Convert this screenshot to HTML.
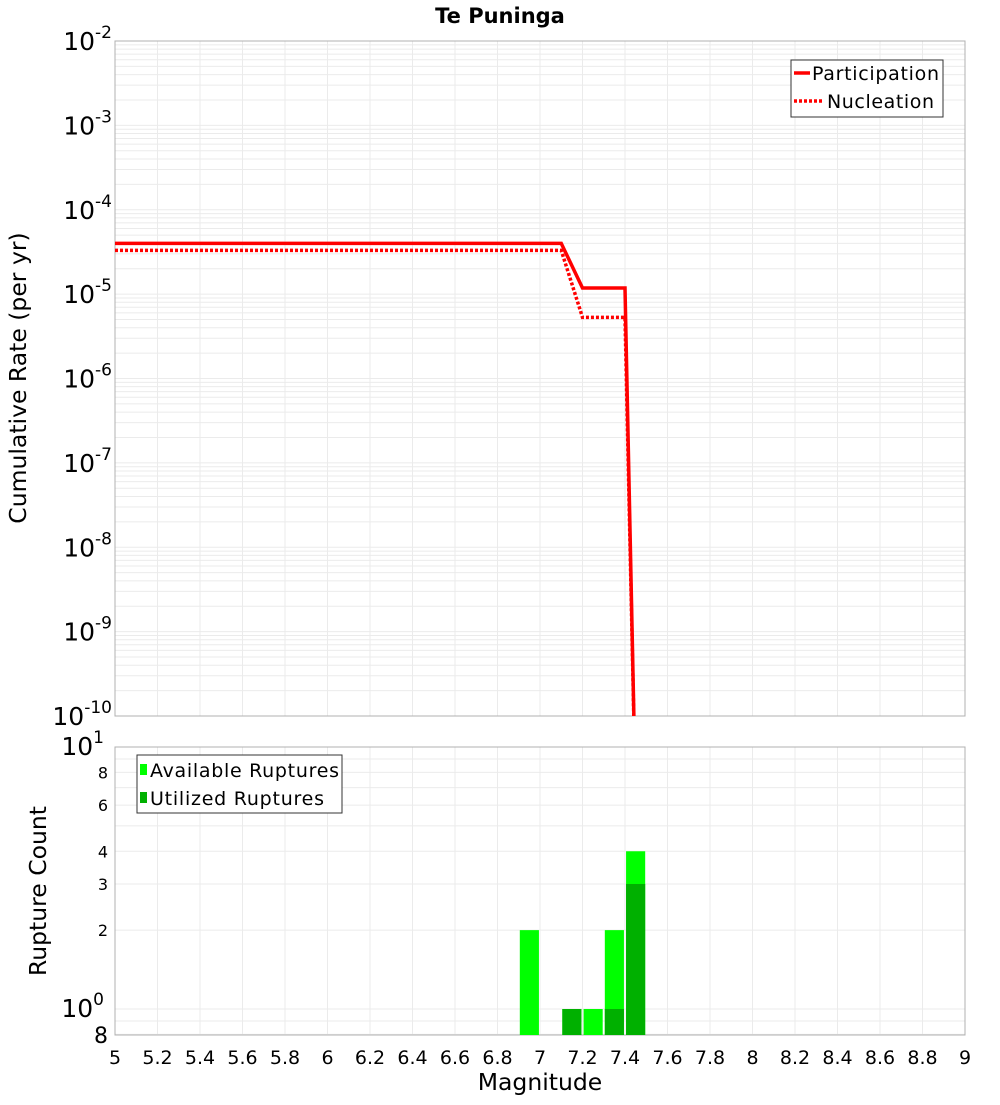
<!DOCTYPE html>
<html><head><meta charset="utf-8"><style>
body{margin:0;background:#fff;font-family:"Liberation Sans","DejaVu Sans",sans-serif}
svg text{font-family:"DejaVu Sans","Liberation Sans",sans-serif}
</style></head><body>
<svg id="c" width="1000" height="1100" xmlns="http://www.w3.org/2000/svg">
<text x="500" y="23" text-anchor="middle" font-size="21" font-weight="bold">Te Puninga</text>
<g id="topg"></g>
<g id="botg"></g>
<text transform="translate(26,378) rotate(-90)" text-anchor="middle" font-size="23.5">Cumulative Rate (per yr)</text>
<text transform="translate(46,891) rotate(-90)" text-anchor="middle" font-size="23.5">Rupture Count</text>
<text x="540" y="1090" text-anchor="middle" font-size="23.5">Magnitude</text>
<g>
<rect x="791" y="60" width="152" height="57" fill="#fff" stroke="#333"/>
<line x1="794" y1="73" x2="810" y2="73" stroke="red" stroke-width="3.5"/>
<text x="812" y="80" font-size="19" textLength="127">Participation</text>
<line x1="794" y1="101" x2="822" y2="101" stroke="red" stroke-width="3.5" stroke-dasharray="3,2"/>
<text x="827" y="108" font-size="19" textLength="107">Nucleation</text>
</g>
<g>
<rect x="137" y="755" width="205" height="58" fill="#fff" stroke="#333"/>
<rect x="140" y="764" width="7" height="11" fill="#00ff00"/>
<text x="150" y="777" font-size="19" textLength="189">Available Ruptures</text>
<rect x="140" y="792" width="7" height="11" fill="#00b000"/>
<text x="150" y="805" font-size="19" textLength="174">Utilized Ruptures</text>
</g>
</svg>
<script>
const rateMags=[5,7.1,7.2,7.4,7.45];
const partRates=[4.0e-5,4.0e-5,1.18e-5,1.18e-5,1e-11];
const nuclRates=[3.3e-5,3.3e-5,5.3e-6,5.3e-6,1e-11];
const binMags=[6.95,7.15,7.25,7.35,7.45];
const available=[2,1,1,2,4];
const utilized=[0,1,0,1,3];
const xTicks=[5,5.2,5.4,5.6,5.8,6,6.2,6.4,6.6,6.8,7,7.2,7.4,7.6,7.8,8,8.2,8.4,8.6,8.8,9];
const rateExps=[-2,-3,-4,-5,-6,-7,-8,-9,-10];
const countTicks=[2,3,4,6,8];

const NS="http://www.w3.org/2000/svg";
const X0=115,X1=965;
const xs=m=>X0+(m-5)/4*(X1-X0);
const T0=41,T1=716;
const yr=v=>T0+(-2-Math.log10(v))/8*(T1-T0);
const B0=747,B1=1035;
const yc=v=>1009-Math.log10(v)*262;
function mk(p,t,a){const e=document.createElementNS(NS,t);for(const k in a)e.setAttribute(k,a[k]);p.appendChild(e);return e;}
const topG=document.getElementById('topg'),botG=document.getElementById('botg');
for(let d=-10;d<-2;d++)for(let k=1;k<10;k++){const y=yr(k*Math.pow(10,d));
 const l=mk(topG,'line',{x1:X0,x2:X1,y1:y,y2:y,stroke:'#ebebeb'});
 
 }
xTicks.forEach(m=>{const l=mk(topG,'line',{x1:xs(m),x2:xs(m),y1:T0,y2:T1,stroke:'#ebebeb'});
 
 
 const l2=mk(botG,'line',{x1:xs(m),x2:xs(m),y1:B0,y2:B1,stroke:'#ebebeb'});
 
 
 const t=mk(botG,'text',{x:xs(m),y:1064,'text-anchor':'middle','font-size':19});t.textContent=String(m);
 
 });
const fr=mk(topG,'rect',{x:X0,y:T0,width:X1-X0,height:T1-T0,fill:'none',stroke:'#b0b0b0'});


rateExps.forEach(e=>{const y=yr(Math.pow(10,e));const t=mk(topG,'text',{x:112,y:y+9,'text-anchor':'end','font-size':25});
 t.innerHTML='10<tspan dy="-12" font-size="17">'+e+'</tspan>';
 
 });
const cp=document.createElementNS(NS,'clipPath');cp.id='cl';mk(cp,'rect',{x:X0,y:T0,width:X1-X0,height:T1-T0});topG.appendChild(cp);
function line(vals,dash,name){const p=mk(topG,'polyline',{points:rateMags.map((m,i)=>xs(m)+','+yr(vals[i])).join(' '),fill:'none',stroke:'red','stroke-width':3.5,'clip-path':'url(#cl)'});
 if(dash)p.setAttribute('stroke-dasharray','3,2');
 
 }
line(nuclRates,true,'nucleation-line');
line(partRates,false,'participation-line');
for(let d=-1;d<1;d++)for(let k=1;k<10;k++){const v=k*Math.pow(10,d);if(v<0.77)continue;const y=yc(v);
 const l=mk(botG,'line',{x1:X0,x2:X1,y1:y,y2:y,stroke:'#ebebeb'});
 
 }
const cf=mk(botG,'rect',{x:X0,y:B0,width:X1-X0,height:B1-B0,fill:'none',stroke:'#b0b0b0'});


const bw=0.09;
binMags.forEach((m,i)=>{
 if(available[i]>0){const r=mk(botG,'rect',{x:xs(m-bw/2),y:yc(available[i]),width:xs(m+bw/2)-xs(m-bw/2),height:B1-yc(available[i]),fill:'#00ff00'});
  
  }
 if(utilized[i]>0){const r=mk(botG,'rect',{x:xs(m-bw/2),y:yc(utilized[i]),width:xs(m+bw/2)-xs(m-bw/2),height:B1-yc(utilized[i]),fill:'#00b000'});
  
  }
});
countTicks.forEach(v=>{const t=mk(botG,'text',{x:108,y:yc(v)+6,'text-anchor':'end','font-size':16});t.textContent=v;
 
 });
[[1,yc(1)+8],[10,B0+8]].forEach(([v,y],i)=>{const t=mk(botG,'text',{x:104,y:y,'text-anchor':'end','font-size':25});
 t.innerHTML='10<tspan dy="-12" font-size="17">'+(i)+'</tspan>';
 
 });
const t8=mk(botG,'text',{x:108,y:1043,'text-anchor':'end','font-size':22});t8.textContent='8';


</script>
</body></html>
